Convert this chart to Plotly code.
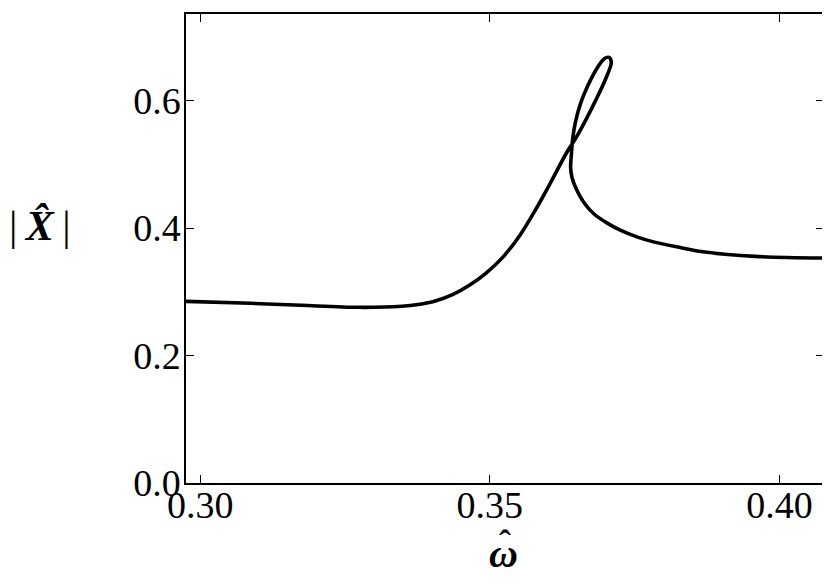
import plotly.graph_objects as go

# frequency response curve (traced in order along the branch)
omega = [0.29756, 0.30871, 0.31742, 0.32735, 0.33484, 0.33763, 0.34059, 0.34355,
         0.34646, 0.34930, 0.35226, 0.35517, 0.35801, 0.36040, 0.36329, 0.36476,
         0.36650, 0.36824, 0.36998, 0.37096, 0.37056, 0.36969, 0.36824, 0.36678,
         0.36563, 0.36476, 0.36429, 0.36406, 0.36394, 0.36417, 0.36504, 0.36620,
         0.36794, 0.37026, 0.37260, 0.37549, 0.37840, 0.38246, 0.38711, 0.39582,
         0.40767]
amp = [0.2851, 0.2820, 0.2789, 0.2757, 0.2773, 0.2800, 0.2855, 0.2955,
       0.3102, 0.3290, 0.3545, 0.3885, 0.4308, 0.4700, 0.5190, 0.5400,
       0.5687, 0.6000, 0.6340, 0.6600, 0.6679, 0.6654, 0.6470, 0.6209,
       0.5949, 0.5660, 0.5400, 0.5139, 0.4955, 0.4799, 0.4590, 0.4407,
       0.4225, 0.4078, 0.3964, 0.3859, 0.3780, 0.3702, 0.3624, 0.3556,
       0.3530]

x_ticks = [0.30, 0.35, 0.40]
x_labels = ["0.30", "0.35", "0.40"]
y_ticks = [0.0, 0.2, 0.4, 0.6]
y_labels = ["0.0", "0.2", "0.4", "0.6"]

SERIF = "Liberation Serif, DejaVu Serif, serif"

fig = go.Figure()
fig.add_trace(go.Scatter(x=omega, y=amp, mode="lines",
                         line=dict(color="black", width=3.6, shape="spline", smoothing=0.9),
                         showlegend=False, hoverinfo="skip"))

font = dict(family=SERIF, size=38, color="black")
axis_common = dict(showgrid=False, zeroline=False, showline=True, linecolor="black",
                   linewidth=1.5, mirror="ticks", ticks="inside", ticklen=8, tickwidth=1.2,
                   tickcolor="black", tickfont=font)
fig.update_xaxes(range=[0.29756, 0.40767], tickvals=x_ticks, ticktext=x_labels,
                 ticklabelstandoff=-12, **axis_common)
fig.update_yaxes(range=[0.0, 0.736], tickvals=y_ticks, ticktext=y_labels,
                 ticklabelstandoff=-4, **axis_common)

fig.add_annotation(text="<b><i>ω</i></b>", xref="paper", yref="paper", x=0.498, y=-0.151,
                   xanchor="center", yanchor="middle", showarrow=False,
                   font=dict(family=SERIF, size=40, color="black"))
fig.add_annotation(text="<b>ˆ</b>", xref="paper", yref="paper", x=0.50, y=-0.128,
                   xanchor="center", yanchor="middle", showarrow=False,
                   font=dict(family=SERIF, size=36, color="black"))
fig.add_annotation(text="|\u2009<b><i>X̂</i></b>\u2009|", xref="paper", yref="paper",
                   x=-0.229, y=0.549, xanchor="center", yanchor="middle", showarrow=False,
                   font=dict(family=SERIF, size=42, color="black"))

fig.update_layout(width=822, height=576, margin=dict(l=178, r=4, t=5, b=101),
                  plot_bgcolor="white", paper_bgcolor="white")
fig.write_html("out.html")
